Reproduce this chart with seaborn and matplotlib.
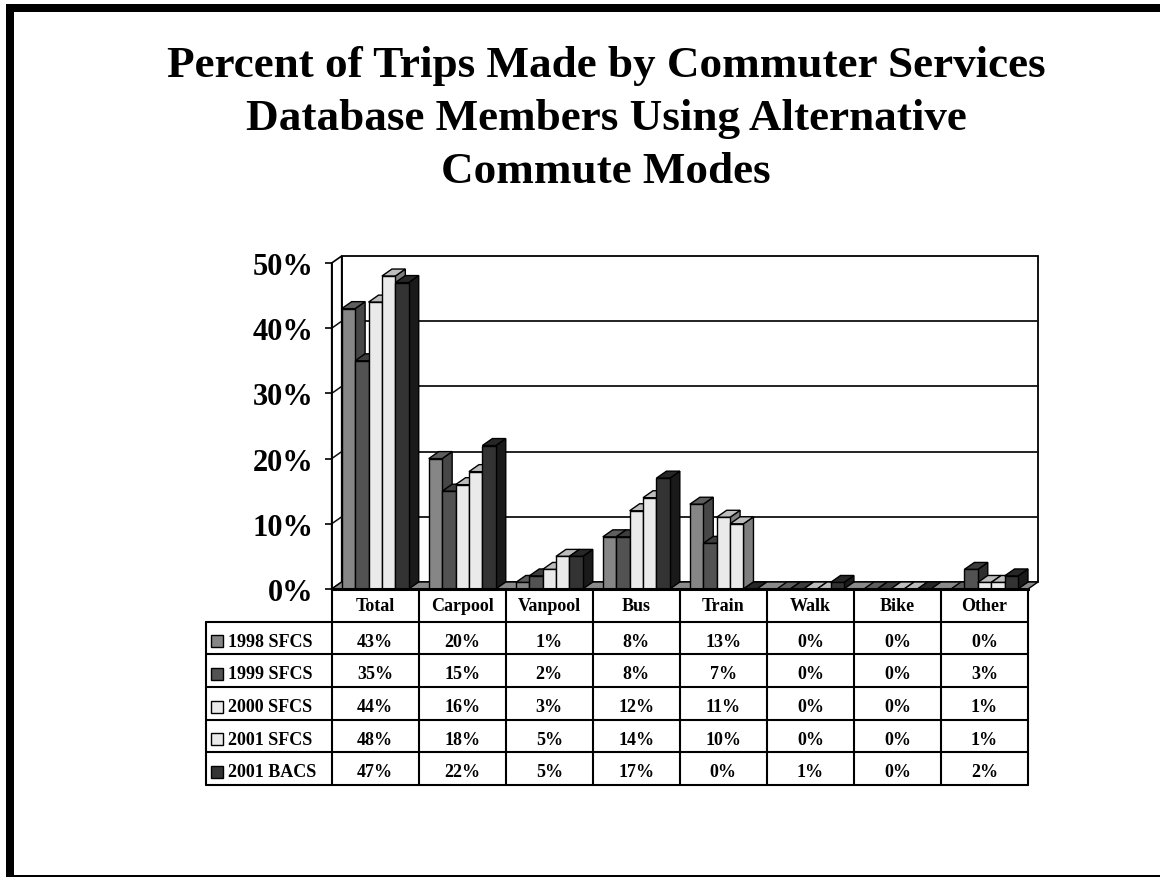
import matplotlib
matplotlib.use("Agg")
import numpy as np
import pandas as pd
import seaborn as sns
import matplotlib.pyplot as plt
from matplotlib.patches import Polygon, Rectangle

# ---- data -------------------------------------------------------------
modes = ["Total", "Carpool", "Vanpool", "Bus", "Train", "Walk", "Bike", "Other"]
surveys = ["1998 SFCS", "1999 SFCS", "2000 SFCS", "2001 SFCS", "2001 BACS"]
pct_1998_sfcs = [43, 20, 1, 8, 13, 0, 0, 0]
pct_1999_sfcs = [35, 15, 2, 8, 7, 0, 0, 3]
pct_2000_sfcs = [44, 16, 3, 12, 11, 0, 0, 1]
pct_2001_sfcs = [48, 18, 5, 14, 10, 0, 0, 1]
pct_2001_bacs = [47, 22, 5, 17, 0, 1, 0, 2]
y_ticks = [0, 10, 20, 30, 40, 50]
title_lines = ["Percent of Trips Made by Commuter Services",
               "Database Members Using Alternative",
               "Commute Modes"]

series = [pct_1998_sfcs, pct_1999_sfcs, pct_2000_sfcs, pct_2001_sfcs, pct_2001_bacs]
df = pd.DataFrame({
    "mode": np.tile(modes, len(surveys)),
    "survey": np.repeat(surveys, len(modes)),
    "pct": np.concatenate(series),
})

# shading of the three visible faces of each box
front_c = ["#868686", "#525252", "#eaeaea", "#eaeaea", "#333333"]
side_c = ["#474747", "#2e2e2e", "#7e7e7e", "#7e7e7e", "#1a1a1a"]
top_c = ["#5e5e5e", "#3d3d3d", "#bdbdbd", "#bdbdbd", "#272727"]

# ---- figure ------------------------------------------------------------
sns.set_theme(style="white")
plt.rcParams["font.family"] = ["Liberation Serif", "DejaVu Serif"]
plt.rcParams["font.weight"] = "bold"
for key in ("text.color", "axes.labelcolor", "xtick.color", "ytick.color"):
    plt.rcParams[key] = "black"

W, H = 1160, 878
fig = plt.figure(figsize=(W / 100, H / 100), dpi=100)
fig.patch.set_facecolor("white")


def px_box(x0, y0, x1, y1):
    return [x0 / W, 1 - y1 / H, (x1 - x0) / W, (y1 - y0) / H]


ax = fig.add_axes(px_box(331.7, 264, 1028, 590))
ax.set_facecolor("none")
sns.barplot(data=df, x="mode", y="pct", hue="survey", order=modes,
            hue_order=surveys, palette=front_c, width=0.77, saturation=1,
            edgecolor="black", linewidth=1.0, legend=False, ax=ax)
ax.set_xlim(-0.5, len(modes) - 0.5)
ax.set_ylim(0, 50)

# depth of the pseudo-3D boxes, in pixels, converted to data units
ax_w = 1028 - 331.7
ax_h = 590 - 264
ddx = 10 / ax_w * len(modes)
ddy = 7 / ax_h * 50
x_lo, x_hi = -0.5, len(modes) - 0.5

# back wall, left wall and floor
ax.add_patch(Polygon([(x_lo + ddx, ddy), (x_hi + ddx, ddy), (x_hi + ddx, 50 + ddy),
                      (x_lo + ddx, 50 + ddy)], closed=True, fc="white", ec="black",
                     lw=1.3, zorder=0.5, clip_on=False))
ax.add_patch(Polygon([(x_lo, 0), (x_lo, 50), (x_lo + ddx, 50 + ddy), (x_lo + ddx, ddy)],
                     closed=True, fc="white", ec="black", lw=1.2, zorder=0.55,
                     clip_on=False))
for v in y_ticks[1:-1]:
    ax.plot([x_lo + ddx, x_hi + ddx], [v + ddy, v + ddy], color="#111111", lw=1.3,
            zorder=0.6, clip_on=False)
    ax.plot([x_lo, x_lo + ddx], [v, v + ddy], color="#111111", lw=1.1,
            zorder=0.6, clip_on=False)
ax.add_patch(Polygon([(x_lo, 0), (x_hi, 0), (x_hi + ddx, ddy), (x_lo + ddx, ddy)],
                     closed=True, fc="#8a8a8a", ec="black", lw=1.0, zorder=1,
                     clip_on=False))

# extrude every bar: side and top faces, painted left to right
bars = sorted([p for p in ax.patches if isinstance(p, Rectangle)
               and p.get_width() < 0.5], key=lambda p: p.get_x())
for k, p in enumerate(bars):
    hi = k % len(surveys)
    x0, w, h = p.get_x(), p.get_width(), p.get_height()
    x1 = x0 + w
    z = 2 + k * 0.01
    if h > 0:
        ax.add_patch(Polygon([(x1, 0), (x1, h), (x1 + ddx, h + ddy), (x1 + ddx, ddy)],
                             closed=True, fc=side_c[hi], ec="black", lw=1.0,
                             zorder=z, clip_on=False))
    ax.add_patch(Polygon([(x0, h), (x1, h), (x1 + ddx, h + ddy), (x0 + ddx, h + ddy)],
                         closed=True, fc=top_c[hi], ec="black", lw=1.0,
                         zorder=z + 0.002, clip_on=False))
    p.set_zorder(z + 0.004)

ax.set_xticks([])
ax.set_xlabel("")
ax.set_ylabel("")
ax.set_yticks(y_ticks)
ax.set_yticklabels([f"{t}%" for t in y_ticks], fontsize=22, fontweight="bold")
ax.tick_params(axis="y", direction="out", length=4.8, width=1.2, pad=8.5,
               colors="black", left=True)
for s in ("top", "right"):
    ax.spines[s].set_visible(False)
ax.spines["left"].set_color("black")
ax.spines["left"].set_linewidth(1.3)
ax.spines["bottom"].set_color("black")
ax.spines["bottom"].set_linewidth(2.2)
ax.spines["bottom"].set_zorder(3)

# ---- data table under the plot ----------------------------------------
col_px = ax_w / len(modes)
leg_w = 126 / col_px
tax = fig.add_axes(px_box(205.7, 590, 1028, 786))
x_left = x_lo - leg_w
tax.set_xlim(x_left, x_hi)
tax.set_ylim(len(surveys) + 1, 0)
tax.axis("off")
lw_t = 1.5
for c in range(len(modes) + 1):
    tax.plot([c - 0.5, c - 0.5], [0, len(surveys) + 1], color="black", lw=lw_t,
             clip_on=False)
tax.plot([x_left, x_left], [1, len(surveys) + 1], color="black", lw=lw_t, clip_on=False)
for r in range(1, len(surveys) + 2):
    tax.plot([x_left, x_hi], [r, r], color="black", lw=lw_t, clip_on=False)

fs_t = 13
for c, m in enumerate(modes):
    tax.text(c, 0.5, m, ha="center", va="center", fontsize=fs_t, fontweight="bold")
sw_w = 12 / col_px
sw_h = 12 / (196 / (len(surveys) + 1))
for i, (name, vals) in enumerate(zip(surveys, series)):
    r = i + 1
    yc = r + 0.6
    tax.add_patch(Rectangle((x_left + 5.3 / col_px, yc - sw_h / 2), sw_w, sw_h,
                            fc=front_c[i], ec="black", lw=1.0, clip_on=False))
    tax.text(x_left + 22.5 / col_px, yc, name, ha="left", va="center",
             fontsize=fs_t, fontweight="bold")
    for c, v in enumerate(vals):
        tax.text(c, yc, f"{v}%", ha="center", va="center", fontsize=fs_t,
                 fontweight="bold")

# ---- title --------------------------------------------------------------
for line, base in zip(title_lines, [76.7, 130.0, 183.3]):
    fig.text(606 / W, 1 - base / H, line, ha="center", va="baseline", fontsize=32.5,
             fontweight="bold", color="black")

# ---- slide frame --------------------------------------------------------
for (x0, y0, x1, y1) in [(6, 5, 14, 877.7), (6, 5, W, 12.7), (6, 876, W, 877.7)]:
    fig.add_artist(Rectangle((x0 / W, 1 - y1 / H), (x1 - x0) / W, (y1 - y0) / H,
                             transform=fig.transFigure, fc="black", ec="none"))

fig.savefig("out.png", dpi=100, facecolor="white")
